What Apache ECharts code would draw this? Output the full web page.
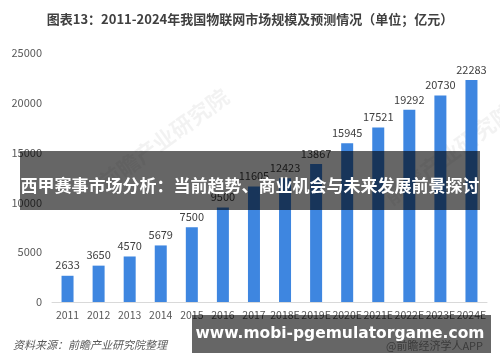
<!DOCTYPE html>
<html><head><meta charset="utf-8">
<script src="https://cdn.jsdelivr.net/npm/echarts@6/dist/echarts.min.js"></script>
<style>html,body{margin:0;padding:0;background:#fff}#c{width:500px;height:362px}</style>
</head><body><div id="c"></div>
<script>
const categories = ['2011','2012','2013','2014','2015','2016','2017','2018E','2019E','2020E','2021E','2022E','2023E','2024E'];
const marketSize = [2633,3650,4570,5679,7500,9500,11605,12423,13867,15945,17521,19292,20730,22283];
const yTicks = {min:0, max:25000, interval:5000};
const titleText = '图表13：2011-2024年我国物联网市场规模及预测情况（单位；亿元）';
const overlayText = '西甲赛事市场分析：当前趋势、商业机会与未来发展前景探讨';
const bannerText = 'www.mobi-pgemulatorgame.com';
const sourceText = '资料来源：前瞻产业研究院整理';
const appText = '@前瞻经济学人APP';

const cjk = '"Noto Sans CJK SC", "Noto Sans", sans-serif';
const chart = echarts.init(document.getElementById('c'), null, {renderer:'canvas'});
chart.setOption({
  animation:false,
  backgroundColor:'#fff',
  title:{text:titleText,left:'center',top:8,textStyle:{fontFamily:cjk,fontSize:13,fontWeight:'bold',color:'#404040'}},
  grid:{left:52,right:13,top:53,bottom:60,containLabel:false},
  xAxis:{type:'category',data:categories,
    axisLine:{lineStyle:{color:'#d9d9d9'}},axisTick:{show:false},
    axisLabel:{color:'#595959',fontSize:10.5,fontFamily:cjk,margin:8,interval:0}},
  yAxis:{type:'value',min:yTicks.min,max:yTicks.max,interval:yTicks.interval,
    axisLine:{show:false},axisTick:{show:false},splitLine:{show:false},
    axisLabel:{color:'#595959',fontSize:11,fontFamily:cjk,margin:10,formatter:v=>String(v)}},
  series:[{type:'bar',data:marketSize,barWidth:12,
    itemStyle:{color:'#3E86E0'},
    label:{show:true,position:'top',color:'#404040',fontSize:11,fontFamily:cjk,distance:5}}],
  graphic:[
    {type:'text',left:95,top:85,rotation:Math.PI/5,z:1,style:{text:'前瞻产业研究院',fill:'rgba(0,0,0,0.05)',font:'bold 22px '+cjk}},
    {type:'text',left:380,top:100,rotation:Math.PI/5,z:1,style:{text:'前瞻产业研究院',fill:'rgba(0,0,0,0.05)',font:'bold 22px '+cjk}},
    {type:'rect',z:100,shape:{x:20,y:151,width:460,height:59},style:{fill:'rgba(0,0,0,0.6)'}},
    {type:'text',z:101,x:250,y:186,style:{text:overlayText,fill:'#fff',font:'bold 17px '+cjk,textAlign:'center',textVerticalAlign:'middle'}},
    {type:'text',z:100,x:13,y:345,style:{text:sourceText,fill:'#595959',font:'italic 11px '+cjk,textVerticalAlign:'middle'}},
    {type:'rect',z:100,shape:{x:192,y:315,width:299,height:38},style:{fill:'rgba(0,0,0,0.6)'}},
    {type:'text',z:101,x:483,y:346,style:{text:appText,fill:'rgba(40,40,40,0.7)',font:'11px '+cjk,textAlign:'right',textVerticalAlign:'middle'}},
    {type:'text',z:102,x:340,y:334,style:{text:bannerText,fill:'#fff',font:'bold 15.5px "DejaVu Sans", sans-serif',textAlign:'center',textVerticalAlign:'middle'}}
  ]
});
</script></body></html>
